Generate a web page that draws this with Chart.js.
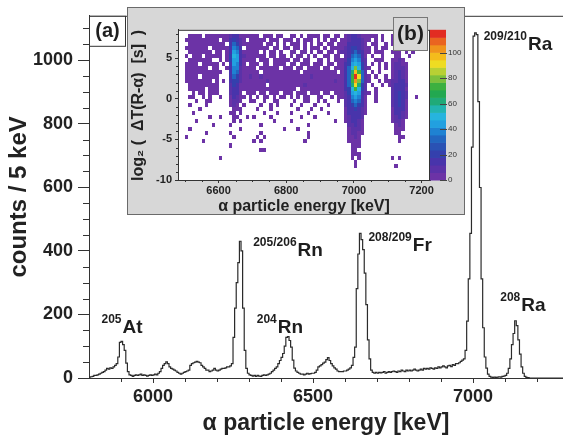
<!DOCTYPE html>
<html>
<head>
<meta charset="utf-8">
<script src="https://cdn.jsdelivr.net/npm/chart.js@4.4.1/dist/chart.umd.min.js"></script>
<style>
  html, body { margin: 0; padding: 0; background: #fff; }
  #wrap { position: relative; width: 563px; height: 440px; overflow: hidden; }
  #main { position: absolute; left: 0; top: 0; }
  #inset { position: absolute; left: 127px; top: 7px; }
</style>
</head>
<body>
<div id="wrap">
  <canvas id="main" width="563" height="440"></canvas>
  <canvas id="inset" width="338" height="208"></canvas>
</div>
<script>
// main spectrum: counts per 5 keV bin, first bin starts at 5800 keV
const binStart = 5800;
const binWidth = 5;
const counts = [
    3, 4, 5, 8, 8, 10, 12, 15, 18, 20,            // 5800
    25, 30, 28, 32, 30, 35, 40, 45, 66, 112,      // 5850
    115, 105, 87, 47, 20, 10, 8, 5, 8, 10,        // 5900
    8, 10, 12, 8, 10, 8, 6, 8, 10, 8,             // 5950
    10, 12, 10, 15, 20, 30, 40, 45, 51, 45,       // 6000
    35, 30, 28, 25, 22, 18, 15, 12, 15, 18,       // 6050
    20, 22, 25, 40, 45, 48, 50, 52, 50, 48,       // 6100
    40, 35, 30, 25, 25, 20, 22, 25, 30, 25,       // 6150
    22, 25, 28, 30, 30, 32, 35, 35, 38, 45,       // 6200
    128, 220, 300, 363, 430, 400, 220, 87, 30, 15, // 6250
    10, 8, 6, 8, 5, 8, 6, 5, 8, 10,               // 6300
    8, 10, 12, 15, 20, 25, 30, 35, 45, 55,        // 6350
    65, 77, 100, 128, 130, 118, 97, 56, 31, 22,   // 6400
    18, 15, 12, 12, 10, 12, 15, 12, 14, 15,       // 6450
    15, 18, 25, 35, 38, 42, 47, 50, 58, 64,       // 6500
    55, 45, 38, 32, 28, 22, 20, 20, 20, 22,       // 6550
    22, 25, 28, 32, 40, 65, 97, 281, 390, 455,    // 6600
    435, 404, 330, 231, 120, 60, 25, 18, 15, 18,  // 6650
    15, 18, 16, 18, 20, 15, 18, 20, 18, 20,       // 6700
    22, 20, 18, 22, 20, 25, 22, 20, 25, 22,       // 6750
    25, 22, 25, 28, 25, 22, 25, 28, 25, 30,       // 6800
    28, 30, 28, 32, 30, 28, 32, 30, 35, 32,       // 6850
    35, 38, 35, 32, 38, 40, 36, 42, 40, 45,       // 6900
    45, 48, 52, 56, 60, 87, 179, 312, 455, 726,   // 6950
    1075, 1085, 1080, 869, 599, 312, 158, 66, 31, 12, // 7000
    5, 3, 2, 3, 2, 3, 4, 3, 5, 6,                 // 7050
    8, 15, 30, 60, 105, 140, 180, 165, 120, 75,   // 7100
    35, 15, 5, 2, 1, 0, 0, 0, 0, 0,               // 7150
    0, 0, 0, 0, 0, 0, 0, 0, 0, 0,                 // 7200
    0, 0, 0, 0, 0, 0, 0, 0, 0, 0                  // 7250
];
const xTicks = [6000, 6500, 7000];
const xMinorTicks = [5900, 6100, 6200, 6300, 6400, 6600, 6700, 6800, 6900, 7100, 7200];
const yTicks = [0, 200, 400, 600, 800, 1000];
const yMinorTicks = [50, 100, 150, 250, 300, 350, 450, 500, 550, 650, 700, 750, 850, 900, 950, 1050, 1100];

// peak labels (text anchored at energy / counts)
const peakLabels = [
    { mass: '205', element: 'At', energy: 5839, count: 143 },
    { mass: '205/206', element: 'Rn', energy: 6313, count: 383 },
    { mass: '204', element: 'Rn', energy: 6324, count: 143 },
    { mass: '208/209', element: 'Fr', energy: 6673, count: 400 },
    { mass: '209/210', element: 'Ra', energy: 7033, count: 1032 },
    { mass: '208', element: 'Ra', energy: 7085, count: 210 }
];

// inset (b): cells of 10 keV x 0.5, first column 6500 keV, first row top edge at 8
const cellEnergyStart = 6500;
const cellEnergyWidth = 10;
const cellTopEdge = 8;
const cellHeight = 0.5;
// one string per row, one char per column, groups of 10 columns
const cellRows = [
    ".1111.1111 1112331111 11.111.11. .11.1.1111 .11.11.123 3211111.1. .1.11.....",
    "1111111111 .1135421.1 1111.111.1 11.1.111.1 .1.11.1123 43211.1.1. .111.1....",
    ".111111111 11.3652111 111.11.1.1 .111.1.1.1 1.11.11134 4321.11..1 .11.11.1..",
    "1111111.11 1114763.11 11111.11.1 1.11.1.111 .1.1111235 54211.1.11 ..1.11....",
    ".1111111.1 1.14873111 11.1.11.1. .11.11.1.1 1.11.12245 65311.111. .111.1.1..",
    "1.111.1111 1.15983211 1111.11.11 .1.11.1.1. .11.11.246 7631.1..1. ..11..1...",
    ".1111111.. 1.15883111 1.111.1111 1.11.11..1 1.1.111257 8742..111. .1121.....",
    "1111.11111 .1.48731.1 11.11.1111 .11.111.11 1.11.11358 9852.1.1.1 .12211....",
    "1111111.11 ..14772111 1.111111.1 11.11.1111 .11.111369 C9521..1.1 .12221....",
    "1111111111 1..3762111 11.1111111 1111.11111 11111.136A EB62.1.1.. .12321....",
    "1111.11111 ...3652112 1121111111 1111111211 111111136B GD621.1..1 .12321....",
    "11111111.1 .1.3552111 1111211111 1111111111 111121136B FC621..1.1 122331....",
    ".111111111 ...2541111 1111.11111 1111121111 111111136A DA52.1..1. 123432....",
    ".11111.111 ...2431111 1111111111 111.111111 1111111359 B952..1... .23431....",
    "..1.11.111 ...2331.11 1.11.111.1 11.111.111 .11.111258 98421.1... .24542....",
    ".11..1.1.. 1..13211.1 .1.11.1.11 .1.1.11..1 1..1.11247 8741..1... .24542..1.",
    "...1..11.. ...1221..1 1..1..11.. ..1..11..1 .1...1.246 7631..1... .24541....",
    ".1....1... ...121.1.. ..1..1.1.. .1..1...1. ..1....235 6531...... .23531....",
    "....1..... ....111... .1...1.... ...1...1.. 1......134 5421...... .13431....",
    "..1....... ...11.1... ...1...1.. .1....1... ..1....134 4321...... .13421....",
    ".......1.. 1...11..1. 1....1.... ....1...1. .......123 432....... .12321....",
    "...1...... ....1.1... ......1... .1........ ....1..123 321....... .1221.....",
    "........1. ...1...... ..1....... ......1... ........22 321....... ..121.....",
    ".1........ ......1... .........1 ...1...... ........12 221....... ..111.....",
    "......1... ...1...... ..1....... ......1... ........12 211....... ..11......",
    "1......... ....1..... .1.1...... ......1... ........11 21........ ...11.....",
    ".....1.... .......... 1.1....... .....1.... ........11 11........ ...1......",
    ".......... ...1...... .......... .......... .........1 11........ ..........",
    ".......... .......... ..11...... .......... .........1 1......... ..........",
    ".......... .......... .......... .......... .........1 11........ ..........",
    ".......... 1......... .......... .......... .........1 .1........ .1.1......",
    ".......... .......... .......... .......... .......... 1......... ..........",
    ".......... .......... .......... .......... .......... 1......... ..1.......",
    ".......... .......... .......... .......... .......... .......... .........."
];
// counts that each char stands for
const cellLevels = { '1': 3, '2': 8, '3': 13, '4': 17, '5': 23, '6': 30, '7': 38, '8': 45, '9': 52,
    'A': 62, 'B': 72, 'C': 82, 'D': 92, 'E': 100, 'F': 106, 'G': 113 };
const insetXTicks = [6600, 6800, 7000, 7200];
const insetXMinorTicks = [6500, 6550, 6650, 6700, 6750, 6850, 6900, 6950, 7050, 7100, 7150];
const insetYTicks = [-10, -5, 0, 5];
const insetYMinorTicks = [-9, -8, -7, -6, -4, -3, -2, -1, 1, 2, 3, 4, 6, 7, 8];
const zTicks = [0, 20, 40, 60, 80, 100];
const zMax = 118;
const palette = ['#6c33a6', '#5a32a8', '#4834ab', '#3440ad', '#2a52b4', '#2266c0', '#1f82d2',
    '#22a0e0', '#26b4de', '#22b4b0', '#20aa78', '#22a850', '#3cb040', '#7cc03c', '#b8d034',
    '#eedc22', '#f4bc1c', '#f0941c', '#ea6420', '#e22c22'];

const fontFamily = '"Liberation Sans", Arial, Helvetica, sans-serif';
Chart.defaults.font.family = fontFamily;
Chart.defaults.color = '#222';

function histogram_points() {
    const points = counts.map((c, i) => ({ x: binStart + i * binWidth, y: c }));
    points.push({ x: binStart + counts.length * binWidth, y: counts[counts.length - 1] });
    return points;
}

function build_cells() {
    const cells = [];
    cellRows.forEach((row, r) => {
        const chars = row.replace(/ /g, '');
        for (let c = 0; c < chars.length; c++) {
            const v = cellLevels[chars[c]];
            if (!v) continue;
            cells.push({ x: cellEnergyStart + c * cellEnergyWidth, y: cellTopEdge - r * cellHeight, v });
        }
    });
    return cells;
}

function color_for(v) {
    const i = Math.min(palette.length - 1, Math.floor(v / zMax * palette.length));
    return palette[i];
}

function set_ticks(values) {
    return (axis) => { axis.ticks = values.map(v => ({ value: v })); };
}

function draw_minor(ctx, scale, values, len, horizontal, edge) {
    ctx.beginPath();
    for (const v of values) {
        const p = Math.round(scale.getPixelForValue(v)) + 0.5;
        if (horizontal) {
            ctx.moveTo(p, edge);
            ctx.lineTo(p, edge + len);
        } else {
            ctx.moveTo(edge - len, p);
            ctx.lineTo(edge, p);
        }
    }
    ctx.stroke();
}

const mainFrame = {
    id: 'mainFrame',
    afterDraw(chart) {
        const { ctx, chartArea: a, scales: { x, y } } = chart;
        ctx.save();
        ctx.strokeStyle = '#333';
        ctx.lineWidth = 1;
        ctx.beginPath();
        ctx.moveTo(a.left, a.top + 0.5);
        ctx.lineTo(a.right, a.top + 0.5);
        ctx.stroke();
        draw_minor(ctx, x, xMinorTicks, 4, true, a.bottom);
        draw_minor(ctx, y, yMinorTicks, 6, false, a.left);
        // (a) box
        ctx.fillStyle = '#fff';
        ctx.fillRect(a.left + 0.5, a.top + 0.5, 36, 30);
        ctx.strokeRect(a.left + 0.5, a.top + 0.5, 36, 30);
        ctx.fillStyle = '#1e1e1e';
        ctx.font = 'bold 20px ' + fontFamily;
        ctx.textAlign = 'center';
        ctx.textBaseline = 'middle';
        ctx.fillText('(a)', a.left + 18.5, a.top + 16);
        ctx.restore();
    }
};

const peakLabelPlugin = {
    id: 'peakLabels',
    afterDatasetsDraw(chart) {
        const { ctx, scales: { x, y } } = chart;
        ctx.save();
        ctx.fillStyle = '#1e1e1e';
        ctx.textBaseline = 'alphabetic';
        ctx.textAlign = 'left';
        for (const lbl of peakLabels) {
            const px = x.getPixelForValue(lbl.energy);
            const py = y.getPixelForValue(lbl.count);
            ctx.font = 'bold 12px ' + fontFamily;
            ctx.fillText(lbl.mass, px, py - 10);
            const w = ctx.measureText(lbl.mass).width;
            ctx.font = 'bold 19px ' + fontFamily;
            ctx.fillText(lbl.element, px + w + 1, py);
        }
        ctx.restore();
    }
};

const insetPanel = {
    id: 'insetPanel',
    beforeDraw(chart) {
        const { ctx, width, height, chartArea: a } = chart;
        ctx.save();
        ctx.fillStyle = '#d7d7d7';
        ctx.fillRect(0, 0, width, height);
        ctx.fillStyle = '#fff';
        ctx.fillRect(a.left, a.top, a.right - a.left, a.bottom - a.top);
        ctx.restore();
    },
    beforeDatasetsDraw(chart) {
        const { ctx, scales: { x, y } } = chart;
        const cells = chart.data.datasets[0].data;
        ctx.save();
        for (const cell of cells) {
            const x0 = Math.round(x.getPixelForValue(cell.x));
            const x1 = Math.round(x.getPixelForValue(cell.x + cellEnergyWidth));
            const y0 = Math.round(y.getPixelForValue(cell.y));
            const y1 = Math.round(y.getPixelForValue(cell.y - cellHeight));
            ctx.fillStyle = color_for(cell.v);
            ctx.fillRect(x0, y0, x1 - x0, y1 - y0);
        }
        ctx.restore();
    },
    afterDraw(chart) {
        const { ctx, width, height, chartArea: a, scales: { x, y, z } } = chart;
        ctx.save();
        // colour bar
        const step = zMax / palette.length;
        palette.forEach((col, i) => {
            const top = z.getPixelForValue((i + 1) * step);
            const bottom = z.getPixelForValue(i * step);
            ctx.fillStyle = col;
            ctx.fillRect(z.left, top, 16, bottom - top + 0.5);
        });
        ctx.strokeStyle = '#444';
        ctx.lineWidth = 1;
        ctx.beginPath();
        for (const v of zTicks) {
            const p = Math.round(z.getPixelForValue(v)) + 0.5;
            ctx.moveTo(z.left + 10, p);
            ctx.lineTo(z.left + 17, p);
        }
        ctx.stroke();
        // frame and minor ticks
        ctx.strokeStyle = '#333';
        ctx.strokeRect(a.left + 0.5, a.top + 0.5, a.right - a.left - 1, a.bottom - a.top);
        draw_minor(ctx, x, insetXMinorTicks, 2, true, a.bottom);
        draw_minor(ctx, y, insetYMinorTicks, 2, false, a.left);
        // (b) box
        const bx = 266, by = 10, bw = 34, bh = 33;
        ctx.fillStyle = '#d7d7d7';
        ctx.fillRect(bx + 0.5, by + 0.5, bw, bh);
        ctx.strokeStyle = '#777';
        ctx.strokeRect(bx + 0.5, by + 0.5, bw, bh);
        ctx.fillStyle = '#1e1e1e';
        ctx.font = 'bold 21px ' + fontFamily;
        ctx.textAlign = 'center';
        ctx.textBaseline = 'middle';
        ctx.fillText('(b)', bx + bw / 2 + 0.5, by + bh / 2 + 1);
        // outer border of the panel
        ctx.strokeStyle = '#6a6a6a';
        ctx.strokeRect(0.5, 0.5, width - 1, height - 1);
        ctx.restore();
    }
};

function main_chart() {
    const config = {
        type: 'line',
        data: {
            datasets: [{
                data: histogram_points(),
                stepped: true,
                borderColor: '#2b2b2b',
                borderWidth: 1.2,
                pointRadius: 0,
                fill: false
            }]
        },
        options: {
            responsive: false,
            animation: false,
            devicePixelRatio: 1,
            layout: { padding: { top: 7, right: 0, bottom: 0, left: 0 } },
            plugins: { legend: { display: false }, tooltip: { enabled: false } },
            scales: {
                x: {
                    type: 'linear', min: 5800, max: 7281,
                    afterBuildTicks: set_ticks(xTicks),
                    afterFit: (axis) => { axis.height = 62; },
                    grid: { drawOnChartArea: false, tickLength: 5, tickColor: '#333' },
                    border: { color: '#333', width: 1 },
                    ticks: {
                        autoSkip: false, maxRotation: 0, padding: 3, color: '#222',
                        font: { size: 18, weight: 'bold' },
                        callback: (v) => String(v)
                    },
                    title: {
                        display: true, text: 'α particle energy [keV]', color: '#222',
                        font: { size: 23, weight: 'bold' }, padding: { top: 0, bottom: 3 }
                    }
                },
                y: {
                    type: 'linear', min: 0, max: 1139,
                    afterBuildTicks: set_ticks(yTicks),
                    afterFit: (axis) => { axis.width = 89; },
                    grid: { drawOnChartArea: false, tickLength: 11, tickColor: '#333' },
                    border: { color: '#333', width: 1 },
                    ticks: {
                        padding: 5, color: '#222',
                        font: { size: 18, weight: 'bold' },
                        callback: (v) => String(v)
                    },
                    title: {
                        display: true, text: 'counts / 5 keV', color: '#222',
                        font: { size: 24, weight: 'bold' }, padding: { top: 5, bottom: 0 }
                    }
                }
            }
        },
        plugins: [mainFrame, peakLabelPlugin]
    };
    return new Chart(document.getElementById('main'), config);
}

function inset_chart() {
    const config = {
        type: 'scatter',
        data: { datasets: [{ data: build_cells(), pointRadius: 0, showLine: false }] },
        options: {
            responsive: false,
            animation: false,
            devicePixelRatio: 1,
            layout: { padding: { top: 11, right: 0, bottom: 0, left: 0 } },
            plugins: { legend: { display: false }, tooltip: { enabled: false } },
            scales: {
                x: {
                    type: 'linear', min: 6480, max: 7225,
                    afterBuildTicks: set_ticks(insetXTicks),
                    afterFit: (axis) => { axis.height = 35; },
                    grid: { drawOnChartArea: false, tickLength: 3, tickColor: '#333' },
                    border: { color: '#333' },
                    ticks: {
                        autoSkip: false, maxRotation: 0, padding: 1, color: '#222',
                        font: { size: 11, weight: 'bold' }, callback: (v) => String(v)
                    },
                    title: {
                        display: true, text: 'α particle energy [keV]', color: '#222',
                        font: { size: 16, weight: 'bold', lineHeight: 1 }, padding: { top: 0, bottom: 0 }
                    }
                },
                y: {
                    type: 'linear', min: -10, max: 8.5,
                    afterBuildTicks: set_ticks(insetYTicks),
                    afterFit: (axis) => { axis.width = 51; },
                    grid: { drawOnChartArea: false, tickLength: 3, tickColor: '#333' },
                    border: { color: '#333' },
                    ticks: {
                        padding: 3, color: '#222',
                        font: { size: 11, weight: 'bold' }, callback: (v) => String(v)
                    },
                    title: {
                        display: true, text: 'log₂ (  ΔT(R-α)  [s]  )', color: '#222', align: 'end',
                        font: { size: 16, weight: 'bold', lineHeight: 1 }, padding: { top: 4, bottom: 0 }
                    }
                },
                z: {
                    type: 'linear', position: 'right', min: 0, max: zMax,
                    afterBuildTicks: set_ticks(zTicks),
                    afterFit: (axis) => { axis.width = 35; },
                    grid: { display: false, drawTicks: false },
                    border: { display: false },
                    ticks: { padding: 18, color: '#333', font: { size: 8 }, callback: (v) => String(v) }
                }
            }
        },
        plugins: [insetPanel]
    };
    return new Chart(document.getElementById('inset'), config);
}

main_chart();
inset_chart();
</script>
</body>
</html>
